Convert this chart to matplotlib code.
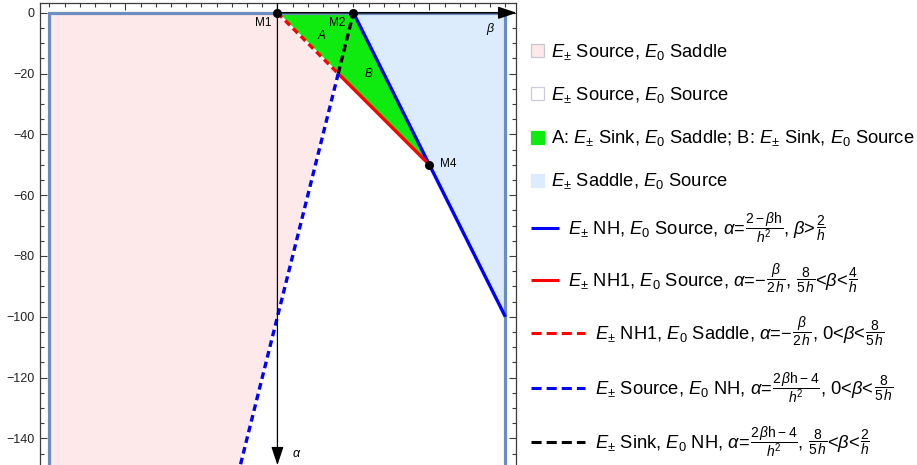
import matplotlib
matplotlib.use("Agg")
import matplotlib.pyplot as plt
from matplotlib.patches import Rectangle
import numpy as np

plt.rcParams["font.family"] = ["Liberation Sans", "DejaVu Sans"]
plt.rcParams["mathtext.fontset"] = "custom"
plt.rcParams["mathtext.rm"] = "Liberation Sans"
plt.rcParams["mathtext.it"] = "Liberation Sans:italic"
plt.rcParams["mathtext.bf"] = "Liberation Sans:bold"

# ---- parameter domain (beta, alpha) ----
domain_beta = [-30, 30]
domain_alpha = [-150, 0]

# ---- regions (polygon vertices in beta/alpha) ----
pink_beta = [-30, 0, 8, -5, -30]
pink_alpha = [0, 0, -20, -150, -150]
green_beta = [0, 10, 20, 8]
green_alpha = [0, 0, -50, -20]
lightblue_beta = [10, 30, 30, 20]
lightblue_alpha = [0, 0, -100, -50]

# ---- boundary curves ----
nh_beta = [10, 20, 30]            # E± NH, E0 Source
nh_alpha = [0, -50, -100]
nh1_src_beta = [8, 20]            # E± NH1, E0 Source
nh1_src_alpha = [-20, -50]
nh1_sad_beta = [0, 8]             # E± NH1, E0 Saddle
nh1_sad_alpha = [0, -20]
src_e0nh_beta = [8, -5]           # E± Source, E0 NH
src_e0nh_alpha = [-20, -150]
sink_e0nh_beta = [8, 10]          # E± Sink, E0 NH
sink_e0nh_alpha = [-20, 0]

# ---- special points ----
point_names = ["M1", "M2", "M4"]
point_beta = [0, 10, 20]
point_alpha = [0, 0, -50]

ytick_values = list(range(-140, 1, 20))

C_PINK = "#fde9e9"
C_GREEN = "#0fea0f"
C_LBLUE = "#dcecfc"
C_EDGE = "#6c8dc0"
C_BLUE = "#0000ff"
C_RED = "#ff0000"

W, H = 917, 465
fig = plt.figure(figsize=(W / 100, H / 100), dpi=100)

px_left, px_right, px_top, px_bot = 40, 516, 3.5, 478.1
ax = fig.add_axes([px_left / W, 1 - px_bot / H, (px_right - px_left) / W,
                   (px_bot - px_top) / H])
ax.set_xlim(-31.25, 31.4)
ax.set_ylim(-153.06, 3.06)

# filled regions
ax.fill(pink_beta, pink_alpha, color=C_PINK, lw=0, zorder=1)
ax.fill(green_beta, green_alpha, color=C_GREEN, lw=0, zorder=1)
ax.fill(lightblue_beta, lightblue_alpha, color=C_LBLUE, lw=0, zorder=1)

# domain border
ax.add_patch(Rectangle((domain_beta[0], domain_alpha[0]),
                       domain_beta[1] - domain_beta[0],
                       domain_alpha[1] - domain_alpha[0],
                       fill=False, edgecolor=C_EDGE, lw=2.3, zorder=2))

# boundary curves
ax.plot(nh_beta, nh_alpha, color=C_BLUE, lw=2.4, zorder=4, solid_capstyle="butt")
ax.plot(nh1_src_beta, nh1_src_alpha, color=C_RED, lw=2.4, zorder=4,
        solid_capstyle="butt")
ax.plot(nh1_sad_beta, nh1_sad_alpha, color="white", lw=1.4, zorder=3)
ax.plot(nh1_sad_beta, nh1_sad_alpha, color=C_RED, lw=2.4, zorder=4,
        dashes=(2.0, 1.3), dash_capstyle="butt")
ax.plot(src_e0nh_beta, src_e0nh_alpha, color="white", lw=1.4, zorder=3)
ax.plot(src_e0nh_beta, src_e0nh_alpha, color=C_BLUE, lw=2.4, zorder=4,
        dashes=(2.0, 1.3), dash_capstyle="butt")
ax.plot(sink_e0nh_beta, sink_e0nh_alpha, color="black", lw=2.4, zorder=4,
        dashes=(2.2, 1.2), dash_capstyle="butt")

# coordinate arrows
arrow_style = "-|>,head_length=0.75,head_width=0.25"
ax.annotate("", xy=(31.5, 0), xytext=(0, 0), annotation_clip=False,
            arrowprops=dict(arrowstyle=arrow_style, color="black", lw=1.1,
                            mutation_scale=15, shrinkA=0, shrinkB=0), zorder=5)
ax.annotate("", xy=(0, -148.8), xytext=(0, 3.06), annotation_clip=False,
            arrowprops=dict(arrowstyle=arrow_style, color="black", lw=0.9,
                            mutation_scale=15, shrinkA=0, shrinkB=0), zorder=5)
ax.text(28.0, -5.3, r"$\beta$", fontsize=9, ha="center", va="center", zorder=6)
ax.text(2.5, -145.1, r"$\alpha$", fontsize=9, ha="center", va="center", zorder=6)

# special points
ax.plot(point_beta, point_alpha, "o", color="black", ms=5.5, zorder=6, clip_on=False)
label_pos = {"M1": (-0.8, -3.2, "right"), "M2": (9.0, -3.2, "right"),
             "M4": (21.4, -49.7, "left")}
for name in point_names:
    bx, ay, ha = label_pos[name]
    ax.text(bx, ay, name, fontsize=8.5, ha=ha, va="center", zorder=6)
ax.text(5.9, -7.6, r"$A$", fontsize=8.5, ha="center", va="center", zorder=6)
ax.text(12.05, -20.1, r"$B$", fontsize=8.5, ha="center", va="center", zorder=6)

# frame and ticks
for s in ax.spines.values():
    s.set_color("#3c3c3c")
    s.set_linewidth(0.9)
ax.set_yticks(ytick_values)
ax.set_yticks(np.arange(-150, 1, 5), minor=True)
ax.set_xticks([-20, 0, 20])
ax.set_xticks(np.arange(-30, 31, 2), minor=True)
ax.tick_params(which="both", direction="in", left=True, right=True, top=True,
               bottom=False, labelbottom=False, color="#3c3c3c", width=0.8)
ax.tick_params(which="major", length=5)
ax.tick_params(which="minor", length=2.6)
ax.tick_params(axis="y", labelsize=9, pad=4, labelcolor="#222222")

# ---- legend ----
lax = fig.add_axes([0, 0, 1, 1])
lax.set_xlim(0, W)
lax.set_ylim(H, 0)
lax.axis("off")
renderer = fig.canvas.get_renderer()

LEG_FS = 13.2
FRAC_FS = 10.0


def write_row(x, y, pieces):
    """Lay out text pieces left to right on one baseline; fractions are smaller."""
    for s, is_frac in pieces:
        fs = FRAC_FS if is_frac else LEG_FS
        dy = -1.0 if is_frac else 0.0
        t = lax.text(x, y + dy, s, fontsize=fs, ha="left", va="baseline")
        x += t.get_window_extent(renderer).width


region_labels = [
    r"$E_{\pm}$ Source, $E_0$ Saddle",
    r"$E_{\pm}$ Source, $E_0$ Source",
    r"A: $E_{\pm}$ Sink, $E_0$ Saddle; B: $E_{\pm}$ Sink, $E_0$ Source",
    r"$E_{\pm}$ Saddle, $E_0$ Source",
]
region_faces = [C_PINK, "white", C_GREEN, C_LBLUE]
region_edges = ["#c9c6d6", "#c9cddf", C_GREEN, C_LBLUE]
region_rows = [51, 94, 137, 180]

F_NH = r"$\dfrac{2-\beta\mathrm{h}}{h^2}$"
F_NH2 = r"$\dfrac{2\,\beta\mathrm{h}-4}{h^2}$"
F_B2H = r"$\dfrac{\beta}{2\,h}$"
F_85H = r"$\dfrac{8}{5\,h}$"
F_4H = r"$\dfrac{4}{h}$"
F_2H = r"$\dfrac{2}{h}$"

line_labels = [
    [(r"$E_{\pm}$ NH, $E_0$ Source, $\alpha$=", False), (F_NH, True),
     (r", $\beta$>", False), (F_2H, True)],
    [(r"$E_{\pm}$ NH1, $E_0$ Source, $\alpha$=$-$", False), (F_B2H, True),
     (", ", False), (F_85H, True), (r"<$\beta$<", False), (F_4H, True)],
    [(r"$E_{\pm}$ NH1, $E_0$ Saddle, $\alpha$=$-$", False), (F_B2H, True),
     (r", 0<$\beta$<", False), (F_85H, True)],
    [(r"$E_{\pm}$ Source, $E_0$ NH, $\alpha$=", False), (F_NH2, True),
     (r", 0<$\beta$<", False), (F_85H, True)],
    [(r"$E_{\pm}$ Sink, $E_0$ NH, $\alpha$=", False), (F_NH2, True),
     (", ", False), (F_85H, True), (r"<$\beta$<", False), (F_2H, True)],
]
line_colors = [C_BLUE, C_RED, C_RED, C_BLUE, "black"]
line_dashed = [False, False, True, True, True]
line_rows = [228, 280, 333, 388, 442]

for y, lab, fc, ec in zip(region_rows, region_labels, region_faces, region_edges):
    lax.add_patch(Rectangle((531, y - 6.5), 13, 13, facecolor=fc, edgecolor=ec, lw=0.9))
    lax.text(551, y + 6, lab, fontsize=LEG_FS, ha="left", va="baseline")

for y, pieces, c, d in zip(line_rows, line_labels, line_colors, line_dashed):
    if d:
        lax.plot([531, 585], [y, y], color=c, lw=2.2, dashes=(3.3, 1.65),
                 dash_capstyle="butt")
        tx = 595
    else:
        lax.plot([531, 559], [y, y], color=c, lw=2.2, solid_capstyle="butt")
        tx = 568
    write_row(tx, y + 6, pieces)

fig.savefig("out.png", dpi=100)
